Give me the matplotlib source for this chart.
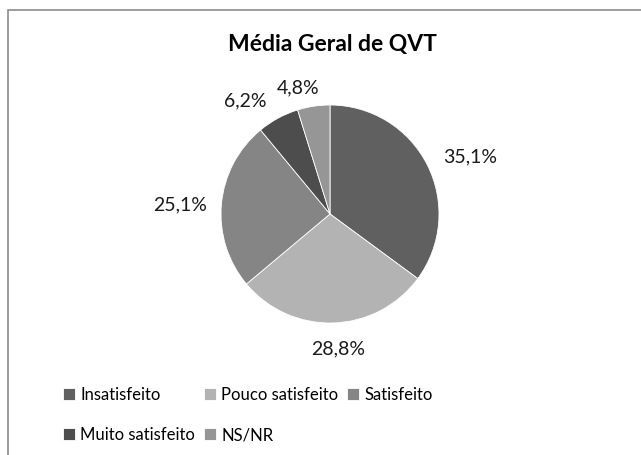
import numpy as np
import matplotlib.pyplot as plt
from matplotlib.patches import Rectangle

categorias = ['Insatisfeito', 'Pouco satisfeito', 'Satisfeito', 'Muito satisfeito', 'NS/NR']
valores = [35.1, 28.8, 25.1, 6.2, 4.8]
rotulos = ['35,1%', '28,8%', '25,1%', '6,2%', '4,8%']
cores = ['#606060', '#b3b3b3', '#858585', '#4d4d4d', '#969696']
# posição dos rótulos: distância (em raios) e desvio angular em relação ao meio da fatia
dist_rotulo = [1.39, 1.24, 1.38, 1.30, 1.19]
desvio_ang = [-4.8, 1.6, 1.8, 8.3, 5.4]

plt.rcParams['font.family'] = ['Lato', 'DejaVu Sans']

fig = plt.figure(figsize=(6.41, 4.55), dpi=100)
fig.patch.set_facecolor('white')

# moldura cinza (cortada à direita e embaixo)
fig.patches.append(Rectangle((8 / 641, -0.1), 1.2, (455 - 10) / 455 + 0.1,
                             transform=fig.transFigure, fill=False,
                             edgecolor='#8c8c8c', linewidth=1.2))

ax = fig.add_axes([221 / 641, 132 / 455, 218 / 641, 218 / 455])
wedges, _ = ax.pie(valores, colors=cores, startangle=90, counterclock=False,
                   wedgeprops=dict(edgecolor='white', linewidth=0.6))
ax.set_xlim(-1, 1)
ax.set_ylim(-1, 1)
ax.set_aspect('equal')

for w, txt, d, da in zip(wedges, rotulos, dist_rotulo, desvio_ang):
    ang = np.deg2rad((w.theta1 + w.theta2) / 2 + da)
    ax.text(d * np.cos(ang), d * np.sin(ang), txt, ha='center', va='center',
            fontsize=14, color='#1a1a1a')

fig.text(332 / 641, 1 - 45 / 455, 'Média Geral de QVT', ha='center', va='center',
         fontsize=16.5, fontweight='bold', color='#000000')

# legenda preenchida por colunas: reordenar para ficar em linhas
ordem = [0, 3, 1, 4, 2]
fig.legend([wedges[i] for i in ordem], [categorias[i] for i in ordem],
           loc='upper left', bbox_to_anchor=(63 / 641, 1 - 387 / 455),
           ncol=3, frameon=False, fontsize=12, handlelength=0.72, handleheight=0.72,
           handletextpad=0.3, columnspacing=0.55, labelspacing=1.45, borderaxespad=0,
           borderpad=0)

fig.savefig('out.png', dpi=100)
